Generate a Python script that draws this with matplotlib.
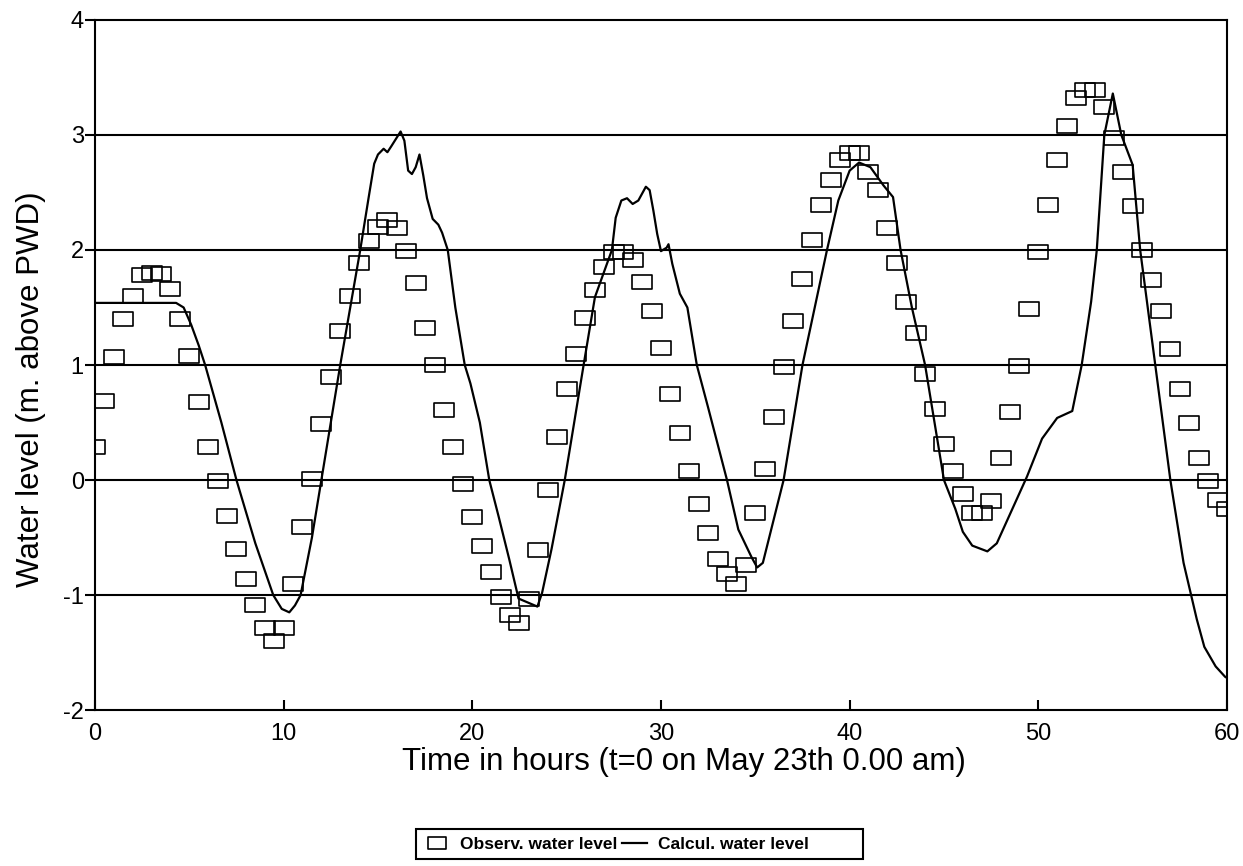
import numpy as np
import matplotlib
matplotlib.use('Agg')
import matplotlib.pyplot as plt
from matplotlib.path import Path
from matplotlib.patches import Rectangle

plt.rcParams['font.family'] = ['Liberation Sans', 'DejaVu Sans']
plt.rcParams['axes.unicode_minus'] = False

# observed water level, every half hour from t=0 to t=60
obs_hours = np.arange(0, 60.5, 0.5)
obs_level = [
    0.29, 0.69, 1.07, 1.40, 1.60, 1.78, 1.80, 1.79, 1.66, 1.40,
    1.08, 0.68, 0.29, -0.01, -0.31, -0.60, -0.86, -1.09, -1.29, -1.40,
    -1.29, -0.90, -0.41, 0.01, 0.49, 0.90, 1.30, 1.60, 1.89, 2.08,
    2.20, 2.26, 2.19, 1.99, 1.71, 1.32, 1.00, 0.61, 0.29, -0.03,
    -0.32, -0.57, -0.80, -1.02, -1.17, -1.24, -1.03, -0.61, -0.09, 0.37,
    0.79, 1.10, 1.41, 1.65, 1.85, 1.98, 1.98, 1.91, 1.72, 1.47,
    1.15, 0.75, 0.41, 0.08, -0.21, -0.46, -0.69, -0.82, -0.90, -0.74,
    -0.29, 0.10, 0.55, 0.98, 1.38, 1.75, 2.09, 2.39, 2.61, 2.78,
    2.84, 2.84, 2.68, 2.52, 2.19, 1.89, 1.55, 1.28, 0.92, 0.62,
    0.31, 0.08, -0.12, -0.29, -0.29, -0.18, 0.19, 0.59, 0.99, 1.49,
    1.98, 2.39, 2.78, 3.08, 3.32, 3.39, 3.39, 3.24, 2.97, 2.68,
    2.38, 2.00, 1.74, 1.47, 1.14, 0.79, 0.50, 0.19, -0.01, -0.17,
    -0.25,
]

# calculated water level (model output)
calc_hours = [
    0.0, 4.3, 4.7, 5.1, 5.5, 5.84, 6.7, 7.5, 8.5, 9.45,
    9.9, 10.3, 10.6, 10.9, 11.5, 12.0, 13.0, 14.06, 14.5, 14.8,
    15.0, 15.3, 15.5, 15.7, 16.2, 16.4, 16.6, 16.8, 17.0, 17.2,
    17.4, 17.6, 17.9, 18.2, 18.4, 18.7, 19.1, 19.6, 19.9, 20.4,
    20.9, 21.4, 21.96, 22.45, 23.45, 23.7, 24.2, 24.9, 25.9, 26.5,
    27.4, 27.6, 27.9, 28.2, 28.5, 28.8, 29.2, 29.4, 29.6, 29.8,
    30.0, 30.3, 30.4, 30.6, 31.0, 31.4, 31.9, 32.5, 33.5, 34.1,
    34.8, 35.1, 35.4, 36.5, 37.5, 38.8, 39.4, 40.0, 40.5, 41.1,
    41.8, 42.3, 42.7, 43.3, 44.0, 45.0, 45.6, 46.0, 46.5, 47.3,
    47.8, 48.6, 49.4, 50.2, 51.0, 51.8, 52.3, 52.8, 53.1, 53.3,
    53.5, 53.95, 54.4, 55.0, 55.4, 56.2, 57.0, 57.7, 58.1, 58.4,
    58.8, 59.4, 59.9, 60.0,
]
calc_level = [
    1.54, 1.54, 1.50, 1.35, 1.17, 1.00, 0.50, 0.00, -0.55, -1.00,
    -1.12, -1.15, -1.09, -1.00, -0.50, 0.00, 1.00, 2.00, 2.45, 2.75,
    2.83, 2.88, 2.85, 2.90, 3.03, 2.95, 2.69, 2.66, 2.72, 2.83,
    2.65, 2.45, 2.27, 2.22, 2.15, 2.00, 1.50, 1.00, 0.84, 0.50,
    0.00, -0.32, -0.69, -1.03, -1.10, -0.98, -0.60, 0.00, 1.00, 1.59,
    2.00, 2.28, 2.43, 2.45, 2.40, 2.43, 2.55, 2.52, 2.34, 2.14,
    1.99, 2.02, 2.05, 1.88, 1.62, 1.50, 1.00, 0.63, 0.00, -0.43,
    -0.67, -0.76, -0.72, 0.00, 1.00, 2.00, 2.43, 2.69, 2.76, 2.72,
    2.56, 2.46, 2.00, 1.50, 1.00, 0.00, -0.25, -0.45, -0.57, -0.62,
    -0.55, -0.26, 0.03, 0.36, 0.54, 0.60, 1.00, 1.55, 2.00, 2.50,
    3.00, 3.36, 3.00, 2.74, 2.00, 1.00, 0.00, -0.72, -1.00, -1.21,
    -1.45, -1.62, -1.71, -1.72,
]

x_ticks = [0, 10, 20, 30, 40, 50, 60]
y_ticks = [-2, -1, 0, 1, 2, 3, 4]
grid_levels = [-1, 0, 1, 2, 3]

# wide open box marker
box = Path([(-1.5, -1), (1.5, -1), (1.5, 1), (-1.5, 1), (-1.5, -1)],
           [Path.MOVETO, Path.LINETO, Path.LINETO, Path.LINETO, Path.CLOSEPOLY])

fig = plt.figure(figsize=(12.43, 8.66), dpi=100)
ax = fig.add_axes([0.0764, 0.180, 0.9107, 0.797])

for lv in grid_levels:
    ax.axhline(lv, color='black', lw=1.5, zorder=1)

ax.plot(obs_hours, obs_level, linestyle='none', marker=box, markersize=15,
        markerfacecolor='none', markeredgecolor='black', markeredgewidth=1.2,
        label='Observ. water level', zorder=3)
ax.plot(calc_hours, calc_level, color='black', lw=1.6,
        label='Calcul. water level', zorder=2)

ax.set_xlim(0, 60)
ax.set_ylim(-2, 4)
ax.set_xticks(x_ticks)
ax.set_yticks(y_ticks)
ax.tick_params(axis='x', direction='in', length=7, width=1.5, labelsize=17, pad=9)
ax.tick_params(axis='y', direction='out', length=7, width=1.5, labelsize=17, pad=1)
for sp in ax.spines.values():
    sp.set_linewidth(1.5)

ax.set_xlabel('Time in hours (t=0 on May 23th 0.00 am)', fontsize=22.5)
ax.xaxis.set_label_coords(0.52, -0.054)
ax.set_ylabel('Water level (m. above PWD)', fontsize=22.5)
ax.yaxis.set_label_coords(-0.043, 0.465)

# legend entries without frame, box drawn around them
leg = fig.legend(loc='center left', bbox_to_anchor=(424 / 1243, 1 - 844 / 866),
                 borderaxespad=0, ncol=2, frameon=False,
                 prop={'size': 12.5, 'weight': 'bold'}, handlelength=1.45,
                 columnspacing=0.3, handletextpad=0.6, borderpad=0.0,
                 markerscale=0.85)
fig.patches.append(Rectangle((416 / 1243, 1 - 859 / 866), 447 / 1243, 30 / 866,
                             transform=fig.transFigure, fill=False,
                             edgecolor='black', lw=1.5))

fig.savefig('out.png', dpi=100)
